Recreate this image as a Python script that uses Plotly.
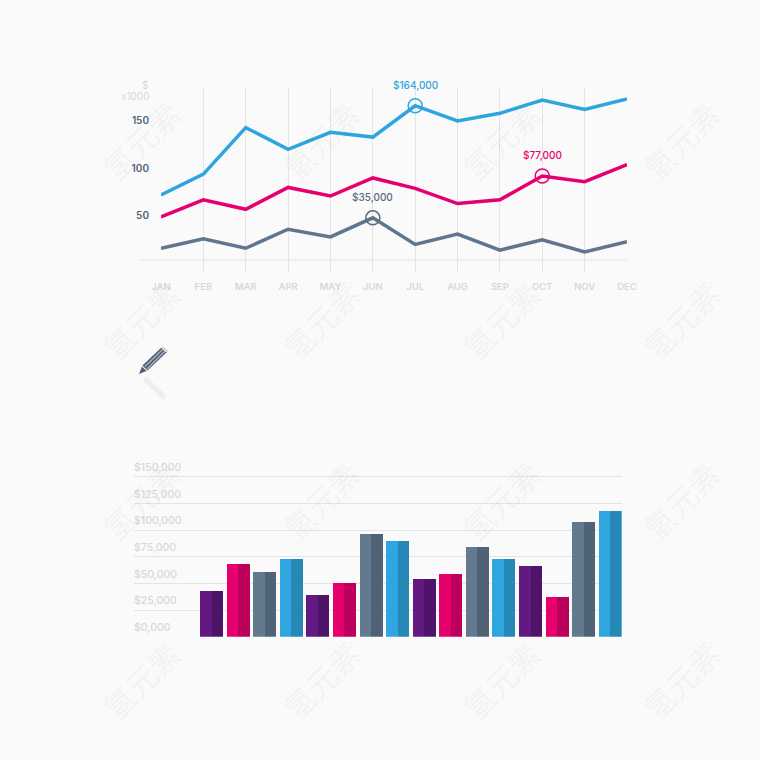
import plotly.graph_objects as go

months = ["JAN", "FEB", "MAR", "APR", "MAY", "JUN", "JUL", "AUG", "SEP", "OCT", "NOV", "DEC"]
blue_values = [71, 93, 142, 119, 137, 132, 165, 149, 157, 171, 161, 172]
pink_values = [48, 66, 56, 79, 70, 89, 78, 62, 66, 91, 85, 103]
slate_values = [15, 25, 15, 35, 27, 47, 19, 30, 13, 24, 11, 22]
line_ticks = [50, 100, 150]

highlight_months = ["JUL", "OCT", "JUN"]
highlight_values = [165, 91, 47]
highlight_labels = ["$164,000", "$77,000", "$35,000"]

bar_values = [42.8, 67.9, 60.6, 73.1, 39.4, 50, 96.3, 89.4, 53.8, 59, 83.8, 73.1, 66, 37.5, 107.2, 117.5]
bar_tick_values = [0, 25, 50, 75, 100, 125, 150]
bar_tick_labels = ["$0,000", "$25,000", "$50,000", "$75,000", "$100,000", "$125,000", "$150,000"]

BLUE, PINK, SLATE = "#2fa5e0", "#e6006e", "#5f768c"
LIGHT = {"purple": "#621a82", "pink": "#e6006e", "slate": "#62798e", "blue": "#2fa6e0"}
DARK = {"purple": "#4e1469", "pink": "#bd005c", "slate": "#506376", "blue": "#2688b6"}
bar_cycle = ["purple", "pink", "slate", "blue"]
FONT = "Inter, 'Open Sans', sans-serif"
BG = "#fafafa"
GRID = "#e4e4e4"
LABEL = "#d8d8d8"


def px(x):
    return x / 760


def py(y):
    return 1 - y / 760


fig = go.Figure()

for values, color in ((blue_values, BLUE), (pink_values, PINK), (slate_values, SLATE)):
    fig.add_trace(go.Scatter(x=months, y=values, mode="lines", cliponaxis=False,
                             line=dict(color=color, width=3.5, shape="linear"),
                             xaxis="x", yaxis="y", showlegend=False))

for m, v, t, color in zip(highlight_months, highlight_values, highlight_labels, (BLUE, PINK, "#5a6c80")):
    fig.add_trace(go.Scatter(x=[m], y=[v], mode="markers", cliponaxis=False,
                             marker=dict(symbol="circle-open", size=14, color=color, line=dict(color=color, width=1.5)),
                             xaxis="x", yaxis="y", showlegend=False))
    fig.add_annotation(x=m, y=v, xref="x", yref="y", text=t, showarrow=False, yshift=21,
                       font=dict(family=FONT, size=10, color=color, weight=500))

BAR_WIDTH = 0.865
bar_x = list(range(len(bar_values)))
bar_names = [bar_cycle[i % 4] for i in bar_x]
fig.add_trace(go.Bar(x=bar_x, y=bar_values, width=BAR_WIDTH / 2, offset=-BAR_WIDTH / 2,
                     marker=dict(color=[LIGHT[n] for n in bar_names], line=dict(width=0)),
                     xaxis="x2", yaxis="y2", showlegend=False))
fig.add_trace(go.Bar(x=bar_x, y=bar_values, width=BAR_WIDTH / 2, offset=0,
                     marker=dict(color=[DARK[n] for n in bar_names], line=dict(width=0)),
                     xaxis="x2", yaxis="y2", showlegend=False))

# Baseline of the line chart, reaching left past the first month
LINE_BASE = 2.6
fig.add_shape(type="line", xref="paper", yref="y", x0=px(139), x1=px(627), y0=LINE_BASE, y1=LINE_BASE,
              line=dict(color=GRID, width=1), layer="below")

# Unit captions
fig.add_annotation(xref="paper", yref="paper", x=px(150), y=py(85), text="$", showarrow=False,
                   xanchor="right", yanchor="middle", font=dict(family=FONT, size=10, color=LABEL))
fig.add_annotation(xref="paper", yref="paper", x=px(151), y=py(96), text="x1000", showarrow=False,
                   xanchor="right", yanchor="middle", font=dict(family=FONT, size=10, color=LABEL))


def poly(points):
    return "M" + " L".join(f"{px(a):.5f},{py(b):.5f}" for a, b in points) + " Z"


# Pencil icon and its reflection
pencil_parts = [
    ([(142.5, 365.5), (162.5, 346.5), (167.5, 351.5), (147.5, 370.5)], "#4f5f75"),
    ([(139, 374), (142, 366.5), (146.5, 371)], "#4f5f75"),
    ([(144.5, 366), (162, 349), (163, 350), (145.5, 367)], "#a9b2bd"),
    ([(146.5, 368.5), (164, 351), (165, 352), (147.5, 369.5)], "#a9b2bd"),
    ([(161, 347.6), (162, 346.6), (167, 351.6), (166, 352.6)], "#fafafa"),
    ([(142.6, 380), (146.5, 376.5), (167, 396), (163, 400)], "#eeeeee"),
]
for pts, col in pencil_parts:
    fig.add_shape(type="path", xref="paper", yref="paper", path=poly(pts), fillcolor=col, line=dict(width=0))

# Background watermark
for wy in (140, 320, 500, 680):
    for wx in (140, 320, 500, 680):
        fig.add_annotation(xref="paper", yref="paper", x=px(wx), y=py(wy), text="氢元素", showarrow=False,
                           xanchor="center", yanchor="middle", textangle=-45,
                           font=dict(family="Noto Sans CJK SC", size=31, color="rgba(0,0,0,0.05)"))

fig.update_layout(
    width=760, height=760, margin=dict(l=0, r=0, t=0, b=0, autoexpand=False),
    paper_bgcolor=BG, plot_bgcolor="rgba(0,0,0,0)",
    barmode="overlay", bargap=0, showlegend=False,
    xaxis=dict(domain=[px(161), px(627)], anchor="y", type="category", range=[0, 11], automargin=False,
               categoryorder="array", categoryarray=months,
               showgrid=True, gridcolor=GRID, gridwidth=1, showline=False, zeroline=False, ticks="",
               ticklabelstandoff=6, tickfont=dict(family=FONT, size=9.5, color=LABEL, weight=600)),
    yaxis=dict(domain=[py(273), py(87)], anchor="x", range=[-11.05, 184.7], tickmode="array", tickvals=line_ticks,
               automargin=False, showgrid=False, zeroline=False, showline=False, ticks="", ticklabelstandoff=11,
               ticklabelshift=1,
               tickfont=dict(family=FONT, size=10, color="#4f6478", weight=600)),
    xaxis2=dict(domain=[px(134), px(621.7)], anchor="y2", range=[-2.916, 15.43], visible=False, automargin=False),
    yaxis2=dict(domain=[py(636.7), py(450)], anchor="x2", range=[0, 175], tickmode="array", automargin=False,
                tickvals=bar_tick_values, ticktext=bar_tick_labels, ticklabelposition="inside top",
                ticklabelstandoff=-3, ticklabelshift=-2,
                showgrid=True, gridcolor=GRID, gridwidth=1, zeroline=False, showline=False, ticks="",
                tickfont=dict(family=FONT, size=10.5, color=LABEL, weight=500)),
)

fig.write_html("out.html", config={"displayModeBar": False}, post_script="document.body.style.margin='0';")
